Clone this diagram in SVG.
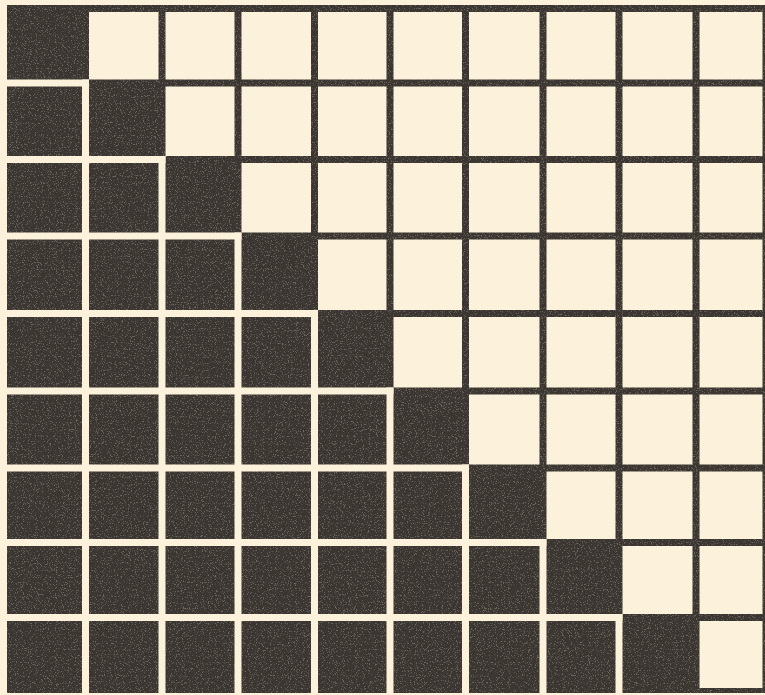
<svg xmlns="http://www.w3.org/2000/svg" width="765" height="695" viewBox="0 0 765 695">
<style>
.paper{fill:#fcf1da}
.dark{fill:#3b3631}
.lc{fill:#fcf1da}
.gap{fill:#fcf1da}
</style>
<defs>
<filter id="speck" x="0" y="0" width="100%" height="100%" color-interpolation-filters="sRGB">
<feTurbulence type="fractalNoise" baseFrequency="0.85" numOctaves="2" seed="7"/>
<feColorMatrix type="matrix" values="0 0 0 0 0.78  0 0 0 0 0.76  0 0 0 0 0.68  8 0 0 0 -4.6"/>
</filter>
</defs>
<rect class="paper" x="0" y="0" width="765" height="695"/>
<g id="dark-field">
<rect class="dark" x="7" y="5" width="758" height="688"/>
<rect x="7" y="5" width="758" height="688" filter="url(#speck)" opacity="0.35"/>
</g>
<g id="light-cells">
<!-- row 0 -->
<rect class="lc" x="89" y="12" width="69.5" height="67.5"/>
<rect class="lc" x="165.5" y="12" width="69" height="67.5"/>
<rect class="lc" x="241.5" y="12" width="69.5" height="67.5"/>
<rect class="lc" x="318" y="12" width="68.5" height="67.5"/>
<rect class="lc" x="393.5" y="12" width="68.5" height="67.5"/>
<rect class="lc" x="469" y="12" width="70.5" height="67.5"/>
<rect class="lc" x="546.5" y="12" width="69" height="67.5"/>
<rect class="lc" x="622.5" y="12" width="70" height="67.5"/>
<rect class="lc" x="699.5" y="12" width="63" height="67.5"/>
<!-- row 1 -->
<rect class="lc" x="165.5" y="86.5" width="69" height="69.5"/>
<rect class="lc" x="241.5" y="86.5" width="69.5" height="69.5"/>
<rect class="lc" x="318" y="86.5" width="68.5" height="69.5"/>
<rect class="lc" x="393.5" y="86.5" width="68.5" height="69.5"/>
<rect class="lc" x="469" y="86.5" width="70.5" height="69.5"/>
<rect class="lc" x="546.5" y="86.5" width="69" height="69.5"/>
<rect class="lc" x="622.5" y="86.5" width="70" height="69.5"/>
<rect class="lc" x="699.5" y="86.5" width="63" height="69.5"/>
<!-- row 2 -->
<rect class="lc" x="241.5" y="163" width="69.5" height="69.5"/>
<rect class="lc" x="318" y="163" width="68.5" height="69.5"/>
<rect class="lc" x="393.5" y="163" width="68.5" height="69.5"/>
<rect class="lc" x="469" y="163" width="70.5" height="69.5"/>
<rect class="lc" x="546.5" y="163" width="69" height="69.5"/>
<rect class="lc" x="622.5" y="163" width="70" height="69.5"/>
<rect class="lc" x="699.5" y="163" width="63" height="69.5"/>
<!-- row 3 -->
<rect class="lc" x="318" y="239.5" width="68.5" height="70.5"/>
<rect class="lc" x="393.5" y="239.5" width="68.5" height="70.5"/>
<rect class="lc" x="469" y="239.5" width="70.5" height="70.5"/>
<rect class="lc" x="546.5" y="239.5" width="69" height="70.5"/>
<rect class="lc" x="622.5" y="239.5" width="70" height="70.5"/>
<rect class="lc" x="699.5" y="239.5" width="63" height="70.5"/>
<!-- row 4 -->
<rect class="lc" x="393.5" y="317" width="68.5" height="70.5"/>
<rect class="lc" x="469" y="317" width="70.5" height="70.5"/>
<rect class="lc" x="546.5" y="317" width="69" height="70.5"/>
<rect class="lc" x="622.5" y="317" width="70" height="70.5"/>
<rect class="lc" x="699.5" y="317" width="63" height="70.5"/>
<!-- row 5 -->
<rect class="lc" x="469" y="394.5" width="70.5" height="70"/>
<rect class="lc" x="546.5" y="394.5" width="69" height="70"/>
<rect class="lc" x="622.5" y="394.5" width="70" height="70"/>
<rect class="lc" x="699.5" y="394.5" width="63" height="70"/>
<!-- row 6 -->
<rect class="lc" x="546.5" y="471.5" width="69" height="67.5"/>
<rect class="lc" x="622.5" y="471.5" width="70" height="67.5"/>
<rect class="lc" x="699.5" y="471.5" width="63" height="67.5"/>
<!-- row 7 -->
<rect class="lc" x="622.5" y="546" width="70" height="68"/>
<rect class="lc" x="699.5" y="546" width="63" height="68"/>
<!-- row 8 -->
<rect class="lc" x="699.5" y="621" width="63" height="67"/>
</g>
<g id="light-gaps">
<rect class="gap" x="0" y="79.5" width="89" height="7"/>
<rect class="gap" x="0" y="156" width="165.5" height="7"/>
<rect class="gap" x="0" y="232.5" width="241.5" height="7"/>
<rect class="gap" x="0" y="310" width="318" height="7"/>
<rect class="gap" x="0" y="387.5" width="393.5" height="7"/>
<rect class="gap" x="0" y="464.5" width="469" height="7"/>
<rect class="gap" x="0" y="539" width="546.5" height="7"/>
<rect class="gap" x="0" y="614" width="622.5" height="7"/>
<rect class="gap" x="82" y="79.5" width="7" height="616"/>
<rect class="gap" x="158.5" y="156" width="7" height="539"/>
<rect class="gap" x="234.5" y="232.5" width="7" height="463"/>
<rect class="gap" x="311" y="310" width="7" height="385"/>
<rect class="gap" x="386.5" y="387.5" width="7" height="308"/>
<rect class="gap" x="462" y="464.5" width="7" height="231"/>
<rect class="gap" x="539.5" y="539" width="7" height="156"/>
<rect class="gap" x="615.5" y="614" width="7" height="81"/>
</g>
</svg>
